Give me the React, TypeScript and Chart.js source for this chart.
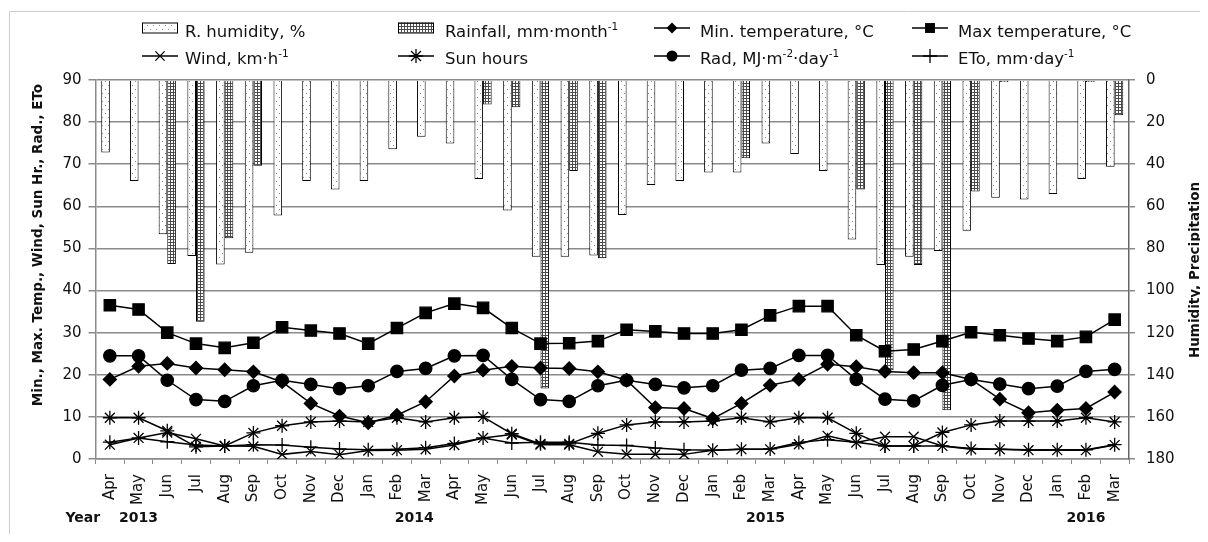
import React, { useEffect, useRef } from 'react';
import { Chart, registerables } from 'chart.js';

Chart.register(...registerables);

const categories = [
  'Apr', 'May', 'Jun', 'Jul', 'Aug', 'Sep', 'Oct', 'Nov', 'Dec', 'Jan', 'Feb', 'Mar',
  'Apr', 'May', 'Jun', 'Jul', 'Aug', 'Sep', 'Oct', 'Nov', 'Dec', 'Jan', 'Feb', 'Mar',
  'Apr', 'May', 'Jun', 'Jul', 'Aug', 'Sep', 'Oct', 'Nov', 'Dec', 'Jan', 'Feb', 'Mar',
];

// right axis (reversed, 0 at top)
const humidity = [
  34.4, 48, 73.2, 83.6, 87.6, 82, 64.3, 48, 52, 48, 32.9, 26.9,
  30.1, 47, 62, 83.9, 83.9, 83.3, 64.1, 49.9, 48, 43.9, 43.9, 30.1,
  35.2, 43.2, 75.7, 87.9, 83.9, 81.2, 71.6, 55.9, 56.7, 54.2, 47, 41.2,
];
const rainfall = [
  0, 0, 87.4, 114.8, 75.2, 40.7, 0, 0, 0, 0, 0, 0,
  0, 11.6, 13, 146.5, 43.2, 84.7, 0, 0, 0, 0, 37.2, 0,
  0, 0, 52, 137.8, 87.9, 156.8, 53, 1, 0, 0, 1, 16.8,
];

// left axis
const maxTemp = [
  36.5, 35.5, 30.0, 27.4, 26.4, 27.6, 31.3, 30.5, 29.8, 27.4, 31.1, 34.7,
  36.9, 35.9, 31.1, 27.4, 27.5, 28.0, 30.7, 30.3, 29.8, 29.8, 30.7, 34.1,
  36.3, 36.3, 29.4, 25.6, 26.0, 28.0, 30.1, 29.4, 28.6, 28.0, 29.0, 33.1,
];
const minTemp = [
  18.9, 22.0, 22.7, 21.6, 21.2, 20.7, 18.3, 13.2, 10.2, 8.6, 10.4, 13.6,
  19.7, 21.1, 22.0, 21.6, 21.5, 20.7, 18.7, 12.2, 12.0, 9.6, 13.2, 17.5,
  18.9, 22.5, 21.9, 20.8, 20.5, 20.5, 18.9, 14.2, 11.0, 11.6, 12.0, 15.9,
];
const rad = [
  24.5, 24.5, 18.7, 14.1, 13.7, 17.4, 18.7, 17.7, 16.7, 17.4, 20.8, 21.5,
  24.5, 24.6, 18.9, 14.1, 13.7, 17.4, 18.7, 17.7, 16.9, 17.4, 21.1, 21.5,
  24.6, 24.6, 18.9, 14.2, 13.8, 17.5, 18.9, 17.8, 16.7, 17.3, 20.8, 21.3,
];
const sunHours = [
  9.8, 9.8, 6.7, 2.9, 3.1, 6.2, 7.9, 8.8, 9.0, 8.8, 9.8, 8.8,
  9.8, 10.0, 6.0, 3.6, 3.6, 6.1, 8.1, 8.8, 8.8, 9.0, 9.8, 8.8,
  9.8, 9.8, 6.1, 3.1, 3.1, 6.3, 8.1, 9.0, 9.0, 9.0, 9.8, 8.8,
];
const wind = [
  3.4, 5.0, 6.3, 4.8, 3.1, 3.0, 1.1, 1.8, 1.0, 2.0, 2.1, 2.3,
  3.3, 5.0, 5.8, 3.4, 3.4, 1.7, 1.1, 1.1, 1.1, 2.1, 2.3, 2.3,
  3.5, 5.5, 3.9, 5.3, 5.3, 3.1, 2.3, 2.3, 2.1, 2.1, 2.1, 3.3,
];
const eto = [
  4.0, 5.0, 4.1, 3.3, 3.1, 3.4, 3.3, 2.8, 2.4, 2.2, 2.3, 2.7,
  3.7, 5.0, 3.8, 4.0, 4.0, 3.3, 3.2, 2.6, 2.2, 2.1, 2.3, 2.4,
  3.9, 4.6, 4.0, 3.1, 3.1, 3.1, 2.5, 2.3, 2.2, 2.2, 2.2, 3.4,
];

const yearLabels = ['Year', '2013', '2014', '2015', '2016'];
const leftTitle = 'Min., Max. Temp., Wind, Sun Hr., Rad., ETo';
const rightTitle = 'Humidity, Precipitation';

// legend texts: [text, superscript?]
const legendHumidity: [string, boolean][] = [['R. humidity, %', false]];
const legendRain: [string, boolean][] = [['Rainfall, mm·month', false], ['-1', true]];
const legendMin: [string, boolean][] = [['Min. temperature, °C', false]];
const legendMax: [string, boolean][] = [['Max temperature, °C', false]];
const legendWind: [string, boolean][] = [['Wind, km·h', false], ['-1', true]];
const legendSun: [string, boolean][] = [['Sun hours', false]];
const legendRad: [string, boolean][] = [['Rad, MJ·m', false], ['-2', true], ['·day', false], ['-1', true]];
const legendEto: [string, boolean][] = [['ETo, mm·day', false], ['-1', true]];

// layout (canvas coordinates)
const W = 1200;
const H = 534;
const YEAR_AT = [-0.94, 1, 10.6, 22.84, 34];
const LEG_SWATCH_X = [134, 390, 646, 904];
const LEG_TEXT_X = [177, 437, 692, 950];
const LEG_ROW_Y = [20, 48];
const LEG_BASE_Y = [28.5, 56];

const FONT = 'DejaVu Sans';
const TEXT = '#111';
const GRID = '#8a8a8a';

function makeDotPattern(): CanvasPattern | string {
  const c = document.createElement('canvas');
  c.width = 6;
  c.height = 8;
  const g = c.getContext('2d');
  if (!g) return '#fff';
  g.fillStyle = '#ffffff';
  g.fillRect(0, 0, 6, 8);
  g.fillStyle = '#8a8a8a';
  g.fillRect(1, 1, 1, 1);
  g.fillRect(4, 5, 1, 1);
  return g.createPattern(c, 'repeat') || '#fff';
}

function makeGridPattern(): CanvasPattern | string {
  const c = document.createElement('canvas');
  c.width = 3;
  c.height = 3;
  const g = c.getContext('2d');
  if (!g) return '#999';
  g.fillStyle = '#ffffff';
  g.fillRect(0, 0, 3, 3);
  g.fillStyle = '#4a4a4a';
  g.fillRect(0, 0, 3, 1);
  g.fillRect(0, 0, 1, 3);
  return g.createPattern(c, 'repeat') || '#999';
}

function drawMarker(ctx: CanvasRenderingContext2D, style: string, x: number, y: number, r: number) {
  ctx.beginPath();
  if (style === 'rect') {
    const s = r * Math.SQRT1_2;
    ctx.rect(x - s, y - s, 2 * s, 2 * s);
    ctx.fill();
  } else if (style === 'rectRot') {
    ctx.moveTo(x, y - r);
    ctx.lineTo(x + r, y);
    ctx.lineTo(x, y + r);
    ctx.lineTo(x - r, y);
    ctx.closePath();
    ctx.fill();
  } else if (style === 'circle') {
    ctx.arc(x, y, r, 0, Math.PI * 2);
    ctx.fill();
  } else {
    const d = r * Math.SQRT1_2;
    if (style === 'cross' || style === 'star') {
      ctx.moveTo(x - r, y);
      ctx.lineTo(x + r, y);
      ctx.moveTo(x, y - r);
      ctx.lineTo(x, y + r);
    }
    if (style === 'crossRot' || style === 'star') {
      ctx.moveTo(x - d, y - d);
      ctx.lineTo(x + d, y + d);
      ctx.moveTo(x - d, y + d);
      ctx.lineTo(x + d, y - d);
    }
    ctx.stroke();
  }
}

function drawParts(ctx: CanvasRenderingContext2D, parts: [string, boolean][], x: number, y: number) {
  let cx = x;
  for (const [t, sup] of parts) {
    ctx.font = sup ? `10.5px ${FONT}` : `16.5px ${FONT}`;
    ctx.fillText(t, cx, sup ? y - 7 : y);
    cx += ctx.measureText(t).width;
  }
}

export default function App() {
  const ref = useRef<HTMLCanvasElement | null>(null);

  useEffect(() => {
    const canvas = ref.current;
    if (!canvas) return;
    const dotPat = makeDotPattern();
    const gridPat = makeGridPattern();

    const decor = {
      id: 'decor',
      afterDraw(chart: any) {
        const ctx: CanvasRenderingContext2D = chart.ctx;
        ctx.save();
        // frame
        ctx.strokeStyle = '#cccccc';
        ctx.lineWidth = 1;
        ctx.beginPath();
        ctx.moveTo(W, 3.5);
        ctx.lineTo(1.5, 3.5);
        ctx.lineTo(1.5, 529.5);
        ctx.lineTo(W, 529.5);
        ctx.stroke();

        // legend
        ctx.fillStyle = TEXT;
        ctx.textAlign = 'left';
        ctx.textBaseline = 'alphabetic';
        const swW = 36;
        const boxTop = LEG_ROW_Y[0] - 5.5;
        ctx.lineWidth = 1;
        ctx.strokeStyle = '#000';
        ctx.fillStyle = dotPat as any;
        ctx.fillRect(LEG_SWATCH_X[0], boxTop, swW, 10);
        ctx.strokeRect(LEG_SWATCH_X[0] + 0.5, boxTop + 0.5, swW - 1, 10);
        ctx.fillStyle = gridPat as any;
        ctx.fillRect(LEG_SWATCH_X[1], boxTop, swW, 10);
        ctx.strokeRect(LEG_SWATCH_X[1] + 0.5, boxTop + 0.5, swW - 1, 10);

        const lineItems: [number, number, string, number][] = [
          [2, 0, 'rectRot', 5.5],
          [3, 0, 'rect', 7],
          [0, 1, 'crossRot', 6.5],
          [1, 1, 'star', 7],
          [2, 1, 'circle', 5.5],
          [3, 1, 'cross', 7],
        ];
        for (const [col, row, style, r] of lineItems) {
          const x0 = LEG_SWATCH_X[col];
          const y0 = LEG_ROW_Y[row];
          ctx.strokeStyle = '#000';
          ctx.fillStyle = '#000';
          ctx.lineWidth = 1.5;
          ctx.beginPath();
          ctx.moveTo(x0, y0);
          ctx.lineTo(x0 + swW, y0);
          ctx.stroke();
          ctx.lineWidth = 1.3;
          drawMarker(ctx, style, x0 + swW / 2, y0, r);
        }
        ctx.fillStyle = TEXT;
        drawParts(ctx, legendHumidity, LEG_TEXT_X[0], LEG_BASE_Y[0]);
        drawParts(ctx, legendRain, LEG_TEXT_X[1], LEG_BASE_Y[0]);
        drawParts(ctx, legendMin, LEG_TEXT_X[2], LEG_BASE_Y[0]);
        drawParts(ctx, legendMax, LEG_TEXT_X[3], LEG_BASE_Y[0]);
        drawParts(ctx, legendWind, LEG_TEXT_X[0], LEG_BASE_Y[1]);
        drawParts(ctx, legendSun, LEG_TEXT_X[1], LEG_BASE_Y[1]);
        drawParts(ctx, legendRad, LEG_TEXT_X[2], LEG_BASE_Y[1]);
        drawParts(ctx, legendEto, LEG_TEXT_X[3], LEG_BASE_Y[1]);

        // axis titles
        ctx.font = `bold 13.5px ${FONT}`;
        ctx.textAlign = 'center';
        ctx.textBaseline = 'middle';
        ctx.save();
        ctx.translate(30, 237);
        ctx.rotate(-Math.PI / 2);
        ctx.fillText(leftTitle, 0, 0);
        ctx.restore();
        ctx.save();
        ctx.translate(1187, 262);
        ctx.rotate(-Math.PI / 2);
        ctx.fillText(rightTitle, 0, 0);
        ctx.restore();

        // year row
        const xs = chart.scales.x;
        ctx.font = `bold 14px ${FONT}`;
        for (let i = 0; i < yearLabels.length; i++) {
          const px = xs.getPixelForValue(YEAR_AT[i]);
          ctx.fillText(yearLabels[i], px, 510);
        }
        ctx.restore();
      },
    };

    const lineDs = (label: string, data: number[], style: string, r: number) => ({
      type: 'line' as const,
      label,
      data,
      yAxisID: 'y',
      order: 0,
      borderColor: '#000',
      backgroundColor: '#000',
      borderWidth: 1.5,
      pointStyle: style,
      pointRadius: r,
      pointBackgroundColor: '#000',
      pointBorderColor: '#000',
      pointBorderWidth: 1.3,
      tension: 0,
      fill: false,
    });

    const chart = new Chart(canvas, {
      type: 'bar',
      data: {
        labels: categories,
        datasets: [
          {
            type: 'bar',
            label: 'R. humidity, %',
            data: humidity,
            yAxisID: 'y1',
            order: 1,
            backgroundColor: dotPat as any,
            borderColor: '#000',
            borderWidth: 1,
            categoryPercentage: 0.6,
            barPercentage: 1,
          },
          {
            type: 'bar',
            label: 'Rainfall, mm·month-1',
            data: rainfall,
            yAxisID: 'y1',
            order: 1,
            backgroundColor: gridPat as any,
            borderColor: '#000',
            borderWidth: 1,
            categoryPercentage: 0.6,
            barPercentage: 1,
          },
          lineDs('Max temperature, °C', maxTemp, 'rect', 8),
          lineDs('Min. temperature, °C', minTemp, 'rectRot', 6.5),
          lineDs('Rad, MJ·m-2·day-1', rad, 'circle', 6.2),
          lineDs('Sun hours', sunHours, 'star', 7),
          lineDs('Wind, km·h-1', wind, 'crossRot', 7),
          lineDs('ETo, mm·day-1', eto, 'cross', 7),
        ] as any,
      },
      options: {
        responsive: false,
        animation: false,
        devicePixelRatio: 1,
        layout: { padding: { top: 72, left: 0, right: 0, bottom: 0 } },
        plugins: {
          legend: { display: false },
          tooltip: { enabled: false },
          title: { display: false },
        },
        scales: {
          x: {
            type: 'category',
            offset: true,
            grid: {
              offset: true,
              drawOnChartArea: false,
              drawTicks: true,
              tickLength: 5,
              color: GRID,
              lineWidth: 1,
            },
            border: { display: true, color: GRID, width: 1.5 },
            ticks: {
              autoSkip: false,
              minRotation: 90,
              maxRotation: 90,
              padding: 10,
              color: TEXT,
              font: { family: FONT, size: 15 },
            },
            afterFit: (s: any) => {
              s.height = 83;
            },
          },
          y: {
            type: 'linear',
            position: 'left',
            min: 0,
            max: 90,
            ticks: {
              stepSize: 10,
              padding: 7,
              color: TEXT,
              font: { family: FONT, size: 15 },
            },
            grid: { color: GRID, lineWidth: 1.5, drawTicks: true, tickLength: 7 },
            border: { display: true, color: GRID, width: 1.5 },
            afterFit: (s: any) => {
              s.width = 87.5;
            },
          },
          y1: {
            type: 'linear',
            position: 'right',
            reverse: true,
            min: 0,
            max: 180,
            ticks: {
              stepSize: 20,
              padding: 11,
              color: TEXT,
              font: { family: FONT, size: 15 },
            },
            grid: { drawOnChartArea: false, drawTicks: true, tickLength: 6, color: GRID, lineWidth: 1.5 },
            border: { display: true, color: '#666', width: 1.5 },
            afterFit: (s: any) => {
              s.width = 79;
            },
          },
        },
      } as any,
      plugins: [decor],
    });

    return () => {
      chart.destroy();
    };
  }, []);

  return (
    <div style={{ width: W, height: H, marginBottom: -8, overflow: 'hidden' }}>
      <canvas ref={ref} width={W} height={H} style={{ display: 'block', width: W, height: H }} />
    </div>
  );
}
